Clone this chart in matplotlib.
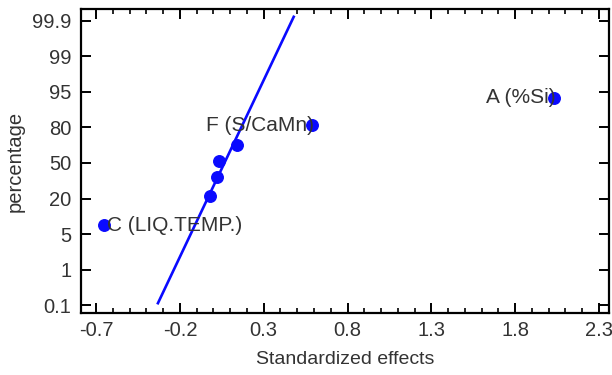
import matplotlib
matplotlib.use("Agg")
import matplotlib.pyplot as plt
from matplotlib.ticker import MultipleLocator

plt.rcParams['font.family'] = ['Liberation Sans', 'DejaVu Sans']

# percentage tick labels (evenly spaced rank positions on the plot)
pct_labels = ["0.1", "1", "5", "20", "50", "80", "95", "99", "99.9"]
pct_pos = list(range(len(pct_labels)))

# standardized effects and their plotted positions (in tick units)
effects = [-0.652, -0.021, 0.02, 0.032, 0.139, 0.586, 2.03]
positions = [2.25, 3.07, 3.6, 4.06, 4.5, 5.06, 5.83]

# labelled effects
labels = ["C (LIQ.TEMP.)", "F (S/CaMn)", "A (%Si)"]
label_x = [-0.652, 0.586, 2.03]
label_y = [2.25, 5.06, 5.83]
label_ha = ["left", "right", "right"]

# reference line ends
line_x = [-0.331, 0.479]
line_y = [0.056, 8.11]

xticks = [-0.7, -0.2, 0.3, 0.8, 1.3, 1.8, 2.3]

blue = "#0a0aff"
txt = "#333333"

fig = plt.figure(figsize=(6.12, 3.75), dpi=100)
ax = fig.add_axes([81 / 612, 1 - 313 / 375, 528 / 612, 304 / 375])

ax.plot(line_x, line_y, color=blue, lw=1.9, zorder=2)
ax.plot(effects, positions, "o", color=blue, ms=8.3, zorder=3)

for t, x, y, ha in zip(labels, label_x, label_y, label_ha):
    ax.text(x + (0.018 if ha == "left" else 0.012), y, t, ha=ha, va="center",
            fontsize=15, color=txt, zorder=4)

ax.set_xlim(-0.79, 2.36)
ax.set_ylim(-0.22, 8.33)
ax.set_xticks(xticks)
ax.set_xticklabels([f"{v:g}" for v in xticks])
ax.xaxis.set_minor_locator(MultipleLocator(0.1))
ax.set_yticks(pct_pos)
ax.set_yticklabels(pct_labels)

ax.tick_params(axis="both", which="major", direction="in", top=True, right=True,
               length=7, width=1.4, labelsize=14.5, labelcolor=txt)
ax.tick_params(axis="y", which="major", pad=7)
ax.tick_params(axis="x", which="major", pad=6)
ax.tick_params(axis="x", which="minor", direction="in", top=True, length=3.5, width=1.2)
for s in ax.spines.values():
    s.set_linewidth(1.6)

ax.set_xlabel("Standardized effects", fontsize=14, color=txt, labelpad=8)
ax.set_ylabel("percentage", fontsize=14.5, color=txt, labelpad=5)

fig.savefig("out.png", dpi=100)
